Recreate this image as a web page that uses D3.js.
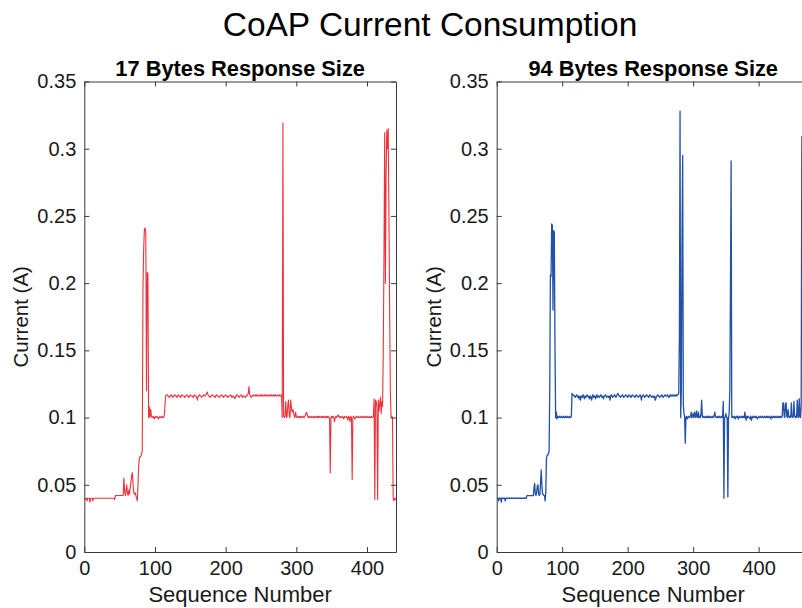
<!DOCTYPE html>
<html>
<head>
<meta charset="utf-8">
<script src="https://cdn.jsdelivr.net/npm/d3@7"></script>
<style>
  html, body { margin: 0; padding: 0; background: #fff; }
  svg { display: block; font-family: "Liberation Sans", Arial, sans-serif; }
</style>
</head>
<body>
<svg id="chart" width="802" height="608"></svg>
<script>
// Current draw per sample, 17-byte responses (A)
const current17 = [
  0.040, 0.039, 0.040, 0.040, 0.038, 0.040, 0.040, 0.040, 0.037, 0.040,
  0.040, 0.040, 0.038, 0.040, 0.040, 0.040, 0.040, 0.040, 0.040, 0.040,
  0.040, 0.040, 0.040, 0.040, 0.040, 0.040, 0.040, 0.040, 0.040, 0.040,
  0.040, 0.040, 0.040, 0.040, 0.040, 0.040, 0.040, 0.040, 0.040, 0.040,
  0.040, 0.040, 0.040, 0.039, 0.042, 0.042, 0.042, 0.042, 0.042, 0.042,
  0.042, 0.042, 0.042, 0.042, 0.042, 0.042, 0.055, 0.046, 0.042, 0.045,
  0.050, 0.044, 0.042, 0.046, 0.043, 0.048, 0.052, 0.057, 0.059, 0.050,
  0.044, 0.043, 0.044, 0.042, 0.040, 0.038, 0.050, 0.065, 0.070, 0.071,
  0.071, 0.073, 0.075, 0.195, 0.225, 0.240, 0.241, 0.238, 0.120, 0.208,
  0.207, 0.100, 0.108, 0.100, 0.106, 0.101, 0.100, 0.101, 0.100, 0.099,
  0.101, 0.100, 0.100, 0.101, 0.100, 0.099, 0.100, 0.101, 0.100, 0.100,
  0.101, 0.100, 0.100, 0.101, 0.108, 0.116, 0.117, 0.117, 0.116, 0.116,
  0.115, 0.116, 0.116, 0.117, 0.116, 0.115, 0.116, 0.116, 0.117, 0.116,
  0.116, 0.115, 0.116, 0.117, 0.116, 0.116, 0.115, 0.116, 0.117, 0.116,
  0.116, 0.116, 0.115, 0.116, 0.116, 0.117, 0.116, 0.116, 0.115, 0.116,
  0.117, 0.116, 0.116, 0.116, 0.115, 0.116, 0.117, 0.116, 0.116, 0.115,
  0.113, 0.116, 0.116, 0.117, 0.116, 0.116, 0.115, 0.116, 0.116, 0.117,
  0.116, 0.116, 0.117, 0.118, 0.119, 0.117, 0.116, 0.116, 0.115, 0.116,
  0.116, 0.117, 0.116, 0.116, 0.116, 0.115, 0.116, 0.117, 0.116, 0.116,
  0.116, 0.115, 0.116, 0.116, 0.117, 0.116, 0.116, 0.115, 0.116, 0.116,
  0.117, 0.116, 0.116, 0.115, 0.116, 0.116, 0.116, 0.117, 0.116, 0.115,
  0.116, 0.116, 0.115, 0.114, 0.116, 0.116, 0.117, 0.116, 0.116, 0.115,
  0.116, 0.116, 0.117, 0.116, 0.115, 0.116, 0.116, 0.116, 0.115, 0.116,
  0.116, 0.117, 0.118, 0.123, 0.117, 0.116, 0.115, 0.116, 0.116, 0.117,
  0.116, 0.116, 0.117, 0.116, 0.117, 0.116, 0.116, 0.117, 0.116, 0.116,
  0.117, 0.116, 0.117, 0.116, 0.116, 0.117, 0.116, 0.117, 0.116, 0.116,
  0.117, 0.116, 0.116, 0.117, 0.116, 0.117, 0.116, 0.116, 0.117, 0.116,
  0.117, 0.116, 0.116, 0.117, 0.116, 0.116, 0.117, 0.116, 0.116, 0.117,
  0.100, 0.319, 0.101, 0.100, 0.101, 0.112, 0.100, 0.101, 0.110, 0.113,
  0.101, 0.100, 0.113, 0.108, 0.104, 0.106, 0.104, 0.101, 0.100, 0.104,
  0.101, 0.100, 0.101, 0.100, 0.100, 0.101, 0.100, 0.101, 0.100, 0.100,
  0.101, 0.100, 0.101, 0.102, 0.104, 0.103, 0.101, 0.100, 0.101, 0.100,
  0.100, 0.101, 0.100, 0.100, 0.101, 0.100, 0.101, 0.100, 0.100, 0.101,
  0.100, 0.101, 0.100, 0.101, 0.100, 0.100, 0.101, 0.100, 0.101, 0.100,
  0.100, 0.101, 0.100, 0.101, 0.100, 0.101, 0.100, 0.100, 0.059, 0.100,
  0.101, 0.100, 0.101, 0.100, 0.097, 0.100, 0.101, 0.100, 0.101, 0.102,
  0.101, 0.100, 0.101, 0.100, 0.100, 0.101, 0.100, 0.099, 0.101, 0.100,
  0.100, 0.101, 0.100, 0.098, 0.101, 0.100, 0.097, 0.101, 0.100, 0.054,
  0.100, 0.101, 0.100, 0.099, 0.100, 0.101, 0.100, 0.100, 0.101, 0.100,
  0.100, 0.101, 0.100, 0.100, 0.101, 0.100, 0.100, 0.101, 0.100, 0.100,
  0.101, 0.100, 0.100, 0.101, 0.100, 0.100, 0.101, 0.100, 0.100, 0.101,
  0.114, 0.039, 0.113, 0.112, 0.108, 0.039, 0.113, 0.105, 0.110, 0.115,
  0.103, 0.112, 0.108, 0.150, 0.220, 0.312, 0.200, 0.280, 0.314, 0.300,
  0.315, 0.250, 0.180, 0.120, 0.100, 0.101, 0.100, 0.040, 0.038, 0.040,
  0.039, 0.040
];

// Current draw per sample, 94-byte responses (A)
const current94 = [
  0.040, 0.040, 0.040, 0.038, 0.040, 0.040, 0.040, 0.037, 0.040, 0.040,
  0.040, 0.040, 0.040, 0.038, 0.040, 0.040, 0.040, 0.040, 0.040, 0.040,
  0.040, 0.040, 0.040, 0.040, 0.040, 0.040, 0.040, 0.040, 0.040, 0.040,
  0.040, 0.040, 0.040, 0.040, 0.040, 0.040, 0.040, 0.040, 0.040, 0.040,
  0.040, 0.040, 0.040, 0.040, 0.040, 0.040, 0.042, 0.042, 0.042, 0.042,
  0.042, 0.042, 0.042, 0.042, 0.042, 0.042, 0.042, 0.048, 0.051, 0.043,
  0.042, 0.044, 0.049, 0.050, 0.043, 0.042, 0.043, 0.052, 0.061, 0.050,
  0.043, 0.043, 0.042, 0.042, 0.038, 0.045, 0.070, 0.072, 0.072, 0.073,
  0.075, 0.120, 0.206, 0.205, 0.244, 0.243, 0.180, 0.239, 0.238, 0.153,
  0.100, 0.104, 0.099, 0.101, 0.100, 0.100, 0.101, 0.100, 0.100, 0.101,
  0.100, 0.100, 0.101, 0.100, 0.100, 0.101, 0.100, 0.100, 0.101, 0.100,
  0.100, 0.101, 0.100, 0.100, 0.101, 0.118, 0.117, 0.117, 0.116, 0.116,
  0.115, 0.116, 0.117, 0.116, 0.115, 0.116, 0.114, 0.116, 0.113, 0.116,
  0.116, 0.115, 0.117, 0.116, 0.114, 0.116, 0.115, 0.116, 0.117, 0.116,
  0.115, 0.116, 0.114, 0.116, 0.115, 0.113, 0.116, 0.117, 0.115, 0.116,
  0.116, 0.114, 0.116, 0.117, 0.115, 0.116, 0.116, 0.115, 0.116, 0.117,
  0.116, 0.115, 0.116, 0.114, 0.116, 0.116, 0.117, 0.116, 0.115, 0.116,
  0.116, 0.115, 0.116, 0.113, 0.116, 0.117, 0.116, 0.115, 0.116, 0.116,
  0.117, 0.116, 0.115, 0.116, 0.117, 0.118, 0.117, 0.116, 0.116, 0.115,
  0.116, 0.116, 0.117, 0.116, 0.115, 0.116, 0.116, 0.117, 0.116, 0.116,
  0.115, 0.116, 0.117, 0.116, 0.116, 0.115, 0.116, 0.117, 0.116, 0.116,
  0.116, 0.115, 0.116, 0.117, 0.116, 0.116, 0.115, 0.116, 0.116, 0.117,
  0.116, 0.113, 0.116, 0.116, 0.117, 0.116, 0.115, 0.116, 0.116, 0.117,
  0.116, 0.116, 0.115, 0.116, 0.117, 0.116, 0.116, 0.115, 0.116, 0.116,
  0.115, 0.116, 0.113, 0.114, 0.116, 0.116, 0.117, 0.116, 0.116, 0.115,
  0.116, 0.116, 0.117, 0.116, 0.115, 0.116, 0.116, 0.117, 0.116, 0.116,
  0.116, 0.117, 0.116, 0.115, 0.116, 0.117, 0.116, 0.116, 0.117, 0.116,
  0.116, 0.117, 0.116, 0.116, 0.117, 0.116, 0.117, 0.117, 0.118, 0.160,
  0.328, 0.100, 0.120, 0.230, 0.295, 0.110, 0.103, 0.101, 0.081, 0.100,
  0.101, 0.099, 0.100, 0.101, 0.100, 0.100, 0.101, 0.104, 0.100, 0.101,
  0.103, 0.100, 0.104, 0.101, 0.100, 0.105, 0.101, 0.100, 0.104, 0.100,
  0.101, 0.100, 0.103, 0.113, 0.101, 0.100, 0.101, 0.100, 0.100, 0.101,
  0.100, 0.100, 0.101, 0.100, 0.101, 0.100, 0.100, 0.101, 0.100, 0.100,
  0.101, 0.100, 0.101, 0.104, 0.101, 0.100, 0.100, 0.101, 0.100, 0.100,
  0.101, 0.100, 0.100, 0.101, 0.100, 0.101, 0.112, 0.040, 0.100, 0.101,
  0.103, 0.100, 0.100, 0.041, 0.100, 0.103, 0.120, 0.200, 0.291, 0.100,
  0.101, 0.100, 0.100, 0.101, 0.099, 0.100, 0.101, 0.100, 0.101, 0.099,
  0.100, 0.101, 0.100, 0.100, 0.101, 0.100, 0.101, 0.100, 0.100, 0.104,
  0.100, 0.098, 0.101, 0.100, 0.101, 0.100, 0.100, 0.099, 0.101, 0.098,
  0.100, 0.101, 0.100, 0.100, 0.101, 0.100, 0.101, 0.100, 0.099, 0.100,
  0.101, 0.100, 0.100, 0.101, 0.100, 0.100, 0.101, 0.100, 0.100, 0.101,
  0.100, 0.100, 0.101, 0.100, 0.101, 0.100, 0.100, 0.101, 0.100, 0.099,
  0.101, 0.100, 0.100, 0.101, 0.100, 0.101, 0.100, 0.100, 0.101, 0.100,
  0.100, 0.101, 0.100, 0.101, 0.100, 0.100, 0.101, 0.111, 0.111, 0.101,
  0.100, 0.110, 0.111, 0.101, 0.100, 0.106, 0.101, 0.100, 0.101, 0.100,
  0.111, 0.101, 0.100, 0.101, 0.112, 0.101, 0.100, 0.101, 0.100, 0.113,
  0.101, 0.100, 0.114, 0.101, 0.100, 0.110, 0.309, 0.220, 0.102
];

const yTicks = [0, 0.05, 0.1, 0.15, 0.2, 0.25, 0.3, 0.35];
const xTicks = [0, 100, 200, 300, 400];

const panels = [
  { title: "17 Bytes Response Size", values: current17, color: "#ec313d", width: 1.1,
    left: 84.3, right: 396, xMax: 441 },
  { title: "94 Bytes Response Size", values: current94, color: "#2451a8", width: 1.3,
    left: 496.7, right: 809.7, xMax: 478 }
];

const svg = d3.select("#chart");
const plotTop = 81.5, plotBottom = 552;
const axisColor = "#3a3a3a";
const textColor = "#1a1a1a";

svg.append("text")
  .attr("x", 430).attr("y", 36)
  .attr("text-anchor", "middle")
  .attr("font-size", 33.5)
  .attr("fill", "#000")
  .text("CoAP Current Consumption");

panels.forEach((p, k) => {
  const x = d3.scaleLinear().domain([0, p.xMax]).range([p.left, p.right]);
  const y = d3.scaleLinear().domain([0, 0.35]).range([plotBottom, plotTop]);

  const clipId = "clip" + k;
  svg.append("clipPath").attr("id", clipId)
    .append("rect")
    .attr("x", p.left).attr("y", plotTop)
    .attr("width", p.right - p.left).attr("height", plotBottom - plotTop);

  const line = d3.line()
    .x((d, i) => x(i))
    .y(d => y(d));

  svg.append("path")
    .datum(p.values)
    .attr("clip-path", `url(#${clipId})`)
    .attr("fill", "none")
    .attr("stroke", p.color)
    .attr("stroke-width", p.width)
    .attr("stroke-linejoin", "round")
    .attr("d", line);

  const styleAxis = g => {
    g.selectAll(".domain").attr("stroke", axisColor);
    g.selectAll(".tick line").attr("stroke", axisColor);
    g.selectAll(".tick text")
      .attr("fill", textColor)
      .attr("font-size", 20)
      .attr("font-family", "'Liberation Sans', Arial, sans-serif");
  };

  svg.append("g")
    .attr("transform", `translate(0,${plotBottom})`)
    .call(d3.axisBottom(x).tickValues(xTicks).tickFormat(d3.format("d"))
      .tickSize(-5).tickSizeOuter(0).tickPadding(9))
    .call(styleAxis);

  svg.append("g")
    .attr("transform", `translate(0,${plotTop})`)
    .call(d3.axisTop(x).tickValues(xTicks).tickFormat("")
      .tickSize(-5).tickSizeOuter(0))
    .call(styleAxis);

  svg.append("g")
    .attr("transform", `translate(${p.left},0)`)
    .call(d3.axisLeft(y).tickValues(yTicks).tickFormat(d => d === 0 ? "0" : String(+d.toFixed(2)))
      .tickSize(-5).tickSizeOuter(0).tickPadding(8))
    .call(styleAxis);

  svg.append("g")
    .attr("transform", `translate(${p.right},0)`)
    .call(d3.axisRight(y).tickValues(yTicks).tickFormat("")
      .tickSize(-5).tickSizeOuter(0))
    .call(styleAxis);

  const cx = (p.left + p.right) / 2;
  svg.append("text")
    .attr("x", cx).attr("y", 76)
    .attr("text-anchor", "middle")
    .attr("font-size", 21.8)
    .attr("font-weight", "bold")
    .attr("fill", "#000")
    .text(p.title);

  svg.append("text")
    .attr("x", cx).attr("y", 602)
    .attr("text-anchor", "middle")
    .attr("font-size", 22)
    .attr("fill", textColor)
    .text("Sequence Number");

  svg.append("text")
    .attr("transform", `translate(${p.left - 56},${(plotTop + plotBottom) / 2}) rotate(-90)`)
    .attr("text-anchor", "middle")
    .attr("font-size", 20.5)
    .attr("fill", textColor)
    .text("Current (A)");
});
</script>
</body>
</html>
